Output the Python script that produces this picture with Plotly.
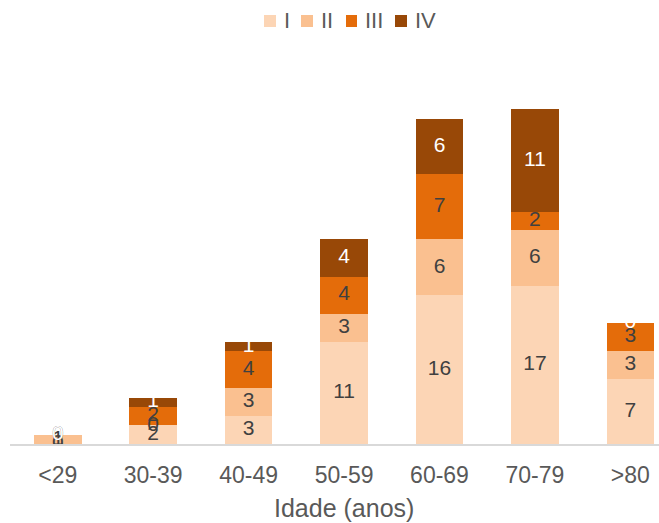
import plotly.graph_objects as go
import numpy as np

categories = ["<29", "30-39", "40-49", "50-59", "60-69", "70-79", ">80"]
series_names = ["I", "II", "III", "IV"]
vals_I = [0, 2, 3, 11, 16, 17, 7]
vals_II = [1, 0, 3, 3, 6, 6, 3]
vals_III = [0, 2, 4, 4, 7, 2, 3]
vals_IV = [0, 1, 1, 4, 6, 11, 0]
colors = ["#FCD5B5", "#FAC090", "#E46C0A", "#984807"]
label_colors = ["#404040", "#404040", "#404040", "#FFFFFF"]

series = [vals_I, vals_II, vals_III, vals_IV]
font_family = "Liberation Sans, Arial, sans-serif"

W, H = 659, 523
ML, MR, MT, MB = 10, 0, 72, 79
PW, PH = W - ML - MR, H - MT - MB


def px_x(p):
    return (p - ML) / PW


def px_y(p):
    return (H - MB - p) / PH


fig = go.Figure()
for name, vals, col in zip(series_names, series, colors):
    fig.add_trace(go.Bar(
        x=categories, y=vals, name=name, marker=dict(color=col, line=dict(width=0)),
        width=0.5, hoverinfo="skip", showlegend=False,
    ))

base = np.zeros(len(categories))
for vals, lc in zip(series, label_colors):
    v = np.array(vals, dtype=float)
    fig.add_trace(go.Scatter(
        x=categories, y=base + v / 2, mode="text", text=[str(int(a)) for a in v],
        textfont=dict(family=font_family, size=21, color=lc),
        showlegend=False, hoverinfo="skip",
    ))
    base = base + v

# legend (manual, to match compact spacing)
legend_marker_px = [(264, 276), (301, 313), (346, 357), (395, 407)]
legend_text_px = [282, 319, 363, 413]
shapes = []
annotations = []
for (x0, x1), tx, name, col in zip(legend_marker_px, legend_text_px, series_names, colors):
    shapes.append(dict(type="rect", xref="paper", yref="paper",
                       x0=px_x(x0), x1=px_x(x1), y0=px_y(27), y1=px_y(15),
                       fillcolor=col, line=dict(width=0)))
    annotations.append(dict(text=name, xref="paper", yref="paper", x=px_x(tx), y=px_y(21),
                            xanchor="left", yanchor="middle", showarrow=False,
                            font=dict(family=font_family, size=22, color="#595959")))

annotations.append(dict(text="Idade (anos)", xref="paper", yref="paper", x=px_x(344), y=px_y(508),
                        xanchor="center", yanchor="middle", showarrow=False,
                        font=dict(family=font_family, size=25, color="#595959")))

fig.update_layout(
    barmode="stack",
    width=W, height=H,
    margin=dict(l=ML, r=MR, t=MT, b=MB),
    paper_bgcolor="white", plot_bgcolor="white",
    font=dict(family=font_family, color="#595959", size=22),
    showlegend=False,
    shapes=shapes,
    annotations=annotations,
)
fig.update_xaxes(range=[-0.5, 6.3], showline=True, linecolor="#D9D9D9", linewidth=2,
                 ticks="", tickfont=dict(size=23, color="#595959"), automargin=False,
                 ticklabelstandoff=9)
fig.update_yaxes(range=[0, 40], showticklabels=False, showgrid=False, zeroline=False,
                 automargin=False)

fig.write_html("out.html")
